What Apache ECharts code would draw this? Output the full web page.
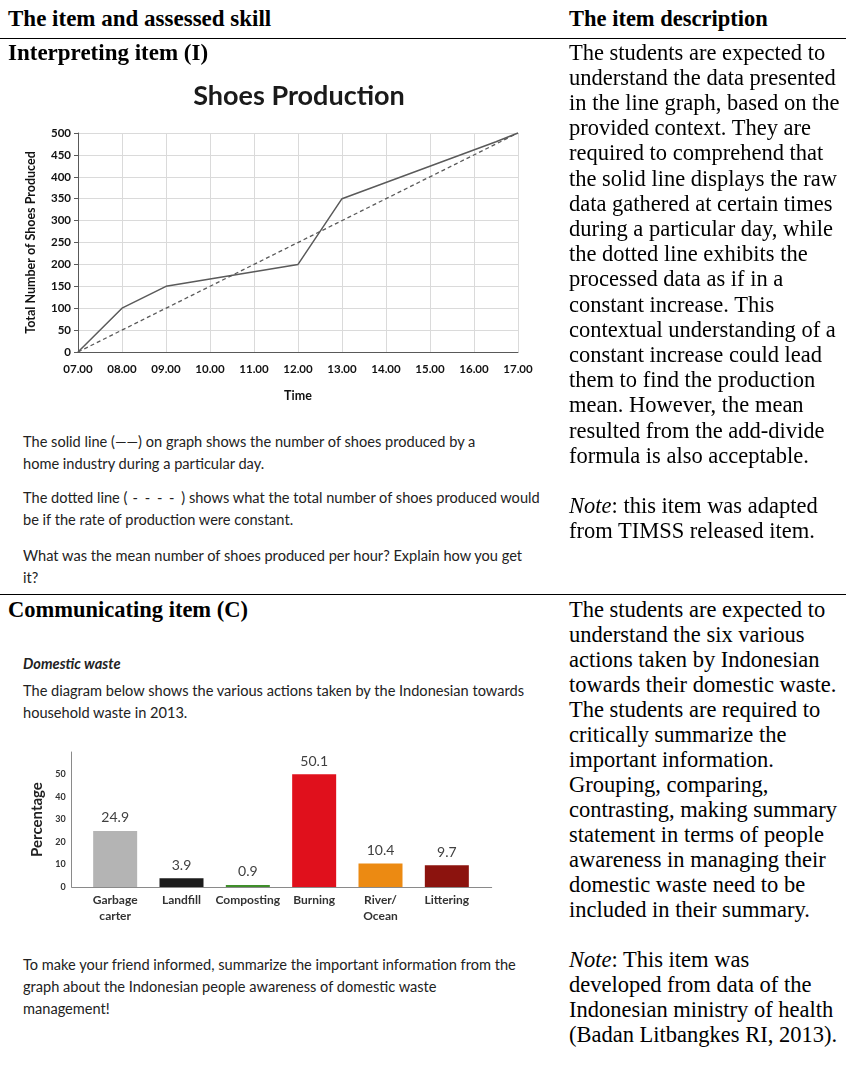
<!DOCTYPE html>
<html><head><meta charset="utf-8">
<script src="https://cdn.jsdelivr.net/npm/echarts@6/dist/echarts.min.js"></script>
<style>
body{margin:0;width:846px;height:1069px;position:relative;background:#fff;overflow:hidden}
.s{position:absolute;font-family:"Liberation Serif","Times New Roman",serif;font-size:22.5px;line-height:25.2px;color:#000;white-space:pre;}
.b{font-weight:bold}
.c{position:absolute;left:23px;font-family:Lato,sans-serif;font-size:14.6px;line-height:22px;color:#222;white-space:pre;}
.hr{position:absolute;left:0;width:846px;height:1.5px;background:#000}
.ch{position:absolute}
</style></head>
<body>
<div id="c1" class="ch" style="left:0;top:60px;width:598px;height:350px"></div>
<div id="c2" class="ch" style="left:0;top:740px;width:560px;height:200px"></div>

<div class="s b" style="left:8px;top:5.5px;font-size:23px">The item and assessed skill</div>
<div class="s b" style="left:569px;top:5.5px">The item description</div>
<div class="hr" style="top:37.5px"></div>
<div class="s b" style="left:8px;top:39.5px;font-size:23px">Interpreting item (I)</div>
<div class="s" style="left:569px;top:39.5px">The students are expected to
understand the data presented
in the line graph, based on the
provided context. They are
required to comprehend that
the solid line displays the raw
data gathered at certain times
during a particular day, while
the dotted line exhibits the
processed data as if in a
constant increase. This
contextual understanding of a
constant increase could lead
them to find the production
mean. However, the mean
resulted from the add-divide
formula is also acceptable.

<i>Note</i>: this item was adapted
from TIMSS released item.</div>

<div class="c" style="top:431px">The solid line (——) on graph shows the number of shoes produced by a
home industry during a particular day.</div>
<div class="c" style="top:487px">The dotted line (<span style="letter-spacing:1.5px"> - - - - </span>) shows what the total number of shoes produced would
be if the rate of production were constant.</div>
<div class="c" style="top:545px">What was the mean number of shoes produced per hour? Explain how you get
it?</div>

<div class="hr" style="top:593.5px"></div>
<div class="s b" style="left:8px;top:596.5px">Communicating item (C)</div>
<div class="s" style="left:569px;top:596.5px;line-height:25px">The students are expected to
understand the six various
actions taken by Indonesian
towards their domestic waste.
The students are required to
critically summarize the
important information.
Grouping, comparing,
contrasting, making summary
statement in terms of people
awareness in managing their
domestic waste need to be
included in their summary.

<i>Note</i>: This item was
developed from data of the
Indonesian ministry of health
(Badan Litbangkes RI, 2013).</div>

<div class="c" style="top:653px;font-weight:bold;font-style:italic">Domestic waste</div>
<div class="c" style="top:680px">The diagram below shows the various actions taken by the Indonesian towards
household waste in 2013.</div>
<div class="c" style="top:954px">To make your friend informed, summarize the important information from the
graph about the Indonesian people awareness of domestic waste
management!</div>

<script>
// ---- Shoes production data ----
const hourTicks = [7, 8, 9, 10, 11, 12, 13, 14, 15, 16, 17];
const solidHours = [7, 8, 9, 12, 13, 16.5, 17];
const solidShoes = [0, 100, 150, 200, 350, 480, 500];
const constHours = [7, 17];
const constShoes = [0, 500];

// ---- Domestic waste data ----
const wasteCategories = ['Garbage\ncarter', 'Landfill', 'Composting', 'Burning', 'River/\nOcean', 'Littering'];
const wastePercent = [24.9, 3.9, 0.9, 50.1, 10.4, 9.7];
const wasteColors = ['#b4b4b4', '#1c1c1c', '#3f8f2a', '#e0101c', '#ec8a12', '#8c130e'];

const fmtHour = v => (v < 10 ? '0' : '') + v + '.00';

const ch1 = echarts.init(document.getElementById('c1'), null, {renderer: 'canvas'});
ch1.setOption({
  animation: false,
  title: {text: 'Shoes Production', left: 'center', top: 18,
    textStyle: {fontFamily: 'Lato', fontWeight: 'bold', fontSize: 27, color: '#1a1a1a'}},
  grid: {left: 78, right: 80, top: 73, bottom: 58},
  xAxis: {type: 'value', min: 7, max: 17, interval: 1,
    name: 'Time', nameLocation: 'middle', nameGap: 37,
    nameTextStyle: {fontFamily: 'Lato', fontWeight: 'bold', fontSize: 12.5, color: '#111'},
    axisLine: {lineStyle: {color: '#595959', width: 1}},
    axisTick: {show: false},
    axisLabel: {formatter: fmtHour, margin: 11, fontFamily: 'Lato', fontWeight: 'bold', fontSize: 11.5, color: '#111'},
    splitLine: {show: true, lineStyle: {color: '#dadada', width: 1}}},
  yAxis: {type: 'value', min: 0, max: 500, interval: 50,
    name: 'Total Number of Shoes Produced', nameLocation: 'middle', nameGap: 41,
    nameTextStyle: {fontFamily: 'Lato', fontWeight: 'bold', fontSize: 12.5, color: '#111'},
    axisLine: {show: true, lineStyle: {color: '#595959', width: 1}},
    axisTick: {show: true, length: 4, lineStyle: {color: '#595959'}},
    axisLabel: {margin: 7, fontFamily: 'Lato', fontWeight: 'bold', fontSize: 11.5, color: '#111'},
    splitLine: {show: true, lineStyle: {color: '#dadada', width: 1}}},
  series: [
    {type: 'line', data: solidHours.map((h, i) => [h, solidShoes[i]]), symbol: 'none',
      lineStyle: {color: '#5a5a5a', width: 1.5}},
    {type: 'line', data: constHours.map((h, i) => [h, constShoes[i]]), symbol: 'none',
      lineStyle: {color: '#5a5a5a', width: 1.3, type: [4, 3]}}
  ]
});

const ch2 = echarts.init(document.getElementById('c2'), null, {renderer: 'canvas'});
ch2.setOption({
  animation: false,
  grid: [
    {left: 82, width: 398, top: 12, height: 135},
    {left: 71.7, width: 420, top: 12, height: 135}
  ],
  xAxis: [
    {type: 'category', gridIndex: 0, data: wasteCategories,
      axisLine: {show: false}, axisTick: {show: false},
      axisLabel: {interval: 0, margin: 5, lineHeight: 16, fontFamily: 'Lato', fontWeight: 'bold', fontSize: 12, color: '#333'}},
    {type: 'value', gridIndex: 1, min: 0, max: 1, axisLine: {show: true, lineStyle: {color: '#8a8a8a'}},
      axisTick: {show: false}, axisLabel: {show: false}, splitLine: {show: false}}
  ],
  yAxis: [
    {type: 'value', gridIndex: 0, min: 0, max: 60, interval: 10, offset: 10.3,
      name: 'Percentage', nameLocation: 'middle', nameGap: 17,
      nameTextStyle: {fontFamily: 'Lato', fontWeight: 'bold', fontSize: 15, color: '#222'},
      axisLine: {show: true, lineStyle: {color: '#8a8a8a'}}, axisTick: {show: false},
      axisLabel: {showMaxLabel: false, margin: 6, fontFamily: 'Lato', fontWeight: 'bold', fontSize: 9, color: '#333'},
      splitLine: {show: false}},
    {type: 'value', gridIndex: 1, show: false, min: 0, max: 1}
  ],
  series: [
    {type: 'bar', xAxisIndex: 0, yAxisIndex: 0, barWidth: 44,
      data: wastePercent.map((v, i) => ({value: v, itemStyle: {color: wasteColors[i]}})),
      label: {show: true, position: 'top', distance: 6, fontFamily: 'Lato', fontSize: 14, color: '#404040'}}
  ]
});
</script>
</body></html>
